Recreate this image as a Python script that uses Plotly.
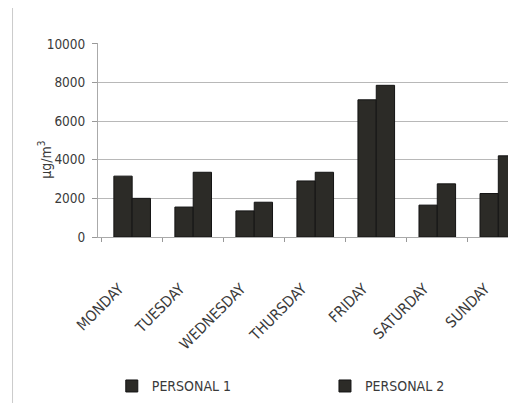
import plotly.graph_objects as go

days = ["MONDAY", "TUESDAY", "WEDNESDAY", "THURSDAY", "FRIDAY", "SATURDAY", "SUNDAY"]
personal1 = [3150, 1550, 1350, 2900, 7100, 1650, 2250]
personal2 = [2000, 3350, 1800, 3350, 7850, 2750, 4200]
y_ticks = [0, 2000, 4000, 6000, 8000, 10000]
y_ticklabels = ["0", "2000", "4000", "6000", "8000", "10000"]

font_family = "DejaVu Sans Condensed, Liberation Sans Narrow, Liberation Sans"
bar_color = "#2c2b27"
text_color = "#3a3a3a"

fig = go.Figure()
fig.add_trace(go.Bar(name="PERSONAL 1", x=days, y=personal1, legend="legend",
                     marker=dict(color=bar_color, line=dict(color="#141414", width=1))))
fig.add_trace(go.Bar(name="PERSONAL 2", x=days, y=personal2, legend="legend2",
                     marker=dict(color=bar_color, line=dict(color="#141414", width=1))))

legend_common = dict(orientation="h", yanchor="middle", xanchor="left", y=-0.77,
                     font=dict(size=14, color=text_color), bgcolor="rgba(0,0,0,0)")

fig.update_layout(
    width=516, height=403,
    margin=dict(l=90, r=8, t=35, b=174, autoexpand=False),
    paper_bgcolor="white", plot_bgcolor="white",
    barmode="group", bargap=0.4, bargroupgap=0,
    font=dict(family=font_family, size=12, color=text_color),
    showlegend=True,
    legend=dict(x=0.033, **legend_common),
    legend2=dict(x=0.543, **legend_common),
    xaxis=dict(range=[-0.56, 6.29], tickangle=-45, showgrid=False, automargin=False,
               ticks="outside", tickson="boundaries", ticklen=4, tickcolor="#999999",
               showline=True, linecolor="#aaaaaa", linewidth=1,
               ticklabelstandoff=36, ticklabelshift=-13,
               tickfont=dict(size=15, color=text_color)),
    yaxis=dict(range=[0, 10040], tickvals=y_ticks, ticktext=y_ticklabels,
               showgrid=True, gridcolor="#b8b8b8", automargin=False,
               gridwidth=1, showline=True, linecolor="#aaaaaa", ticks="outside",
               ticklen=5, tickcolor="#999999", zeroline=False, ticklabelstandoff=4,
               tickfont=dict(size=13.5, color=text_color)),
    annotations=[dict(text="µg/m<sup>3</sup>", xref="paper", yref="paper",
                      x=-0.152, y=0.40, textangle=-90, showarrow=False,
                      font=dict(size=14, color=text_color))],
    shapes=[dict(type="line", xref="paper", yref="paper", x0=-0.2045, x1=-0.2045,
                 y0=-0.9, y1=1.2, line=dict(color="#cccccc", width=1))],
)

fig.write_html("out.html")
